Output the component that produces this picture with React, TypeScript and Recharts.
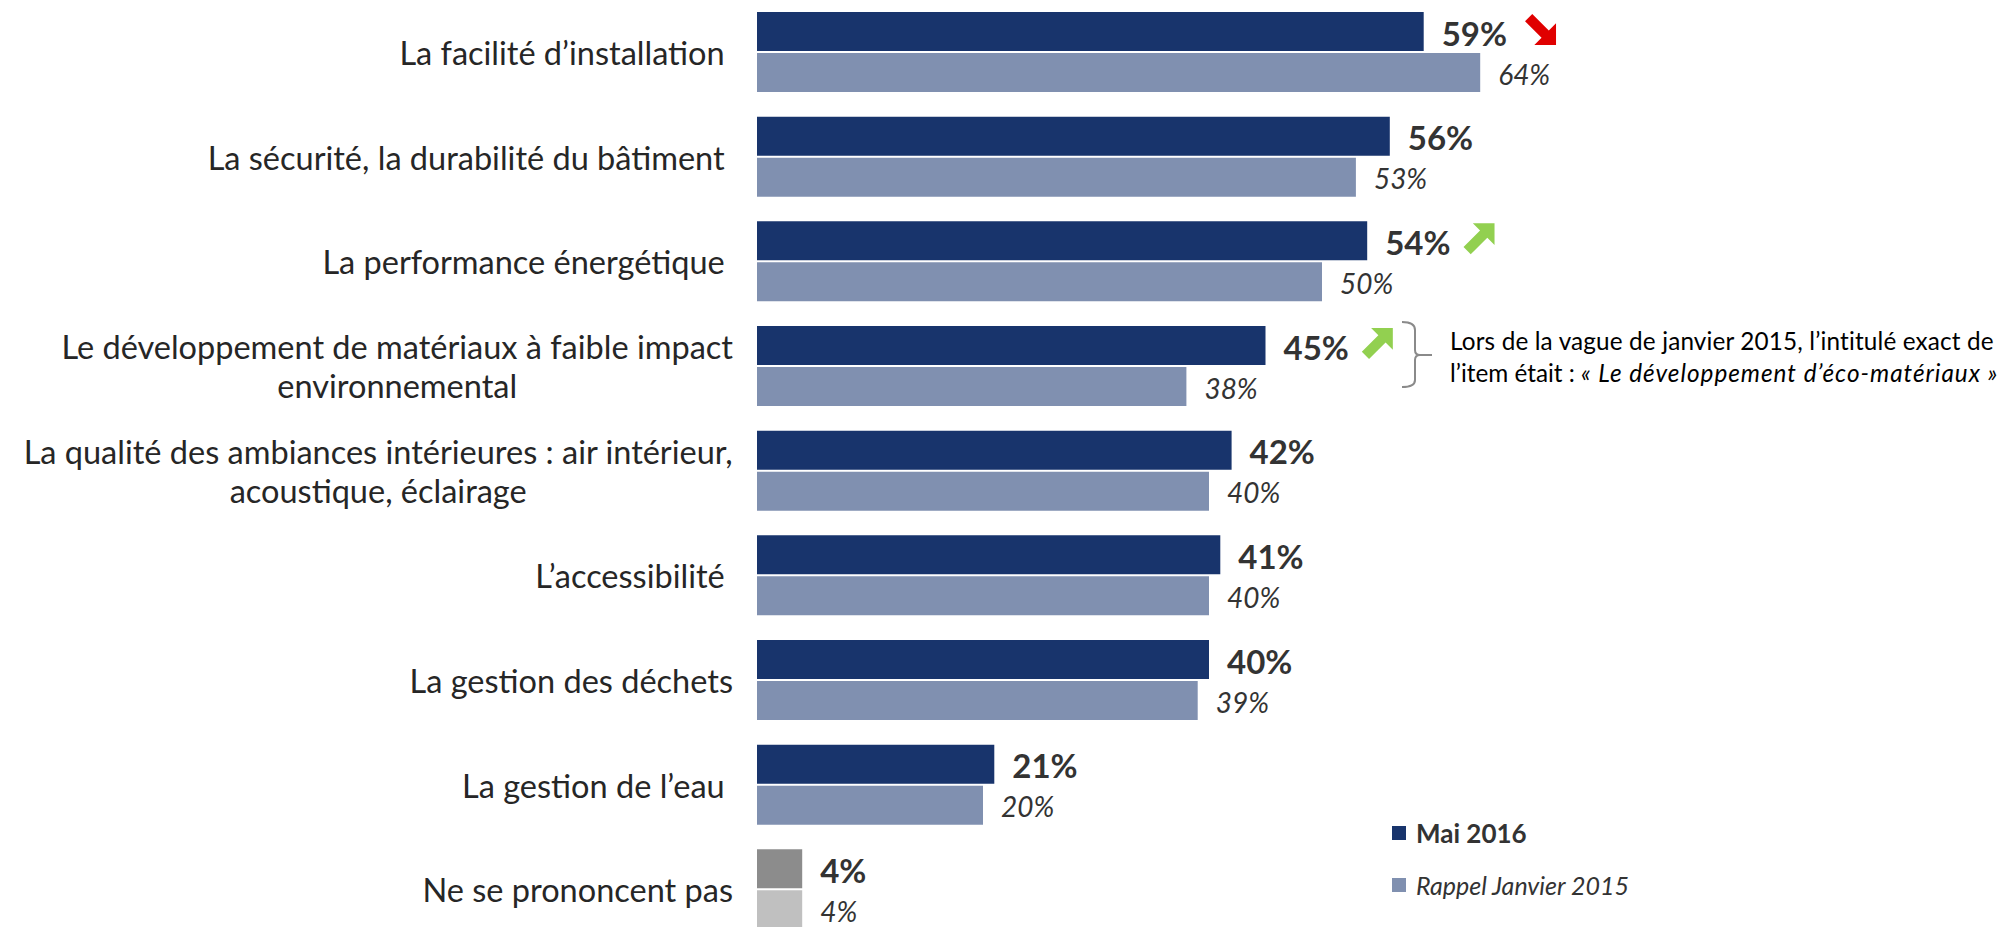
import React from "react";
import { BarChart, Bar, XAxis, YAxis, Cell, LabelList } from "recharts";

const categories = [
  "La facilité d’installation ",
  "La sécurité, la durabilité du bâtiment ",
  "La performance énergétique ",
  "Le développement de matériaux à faible impact\nenvironnemental",
  "La qualité des ambiances intérieures : air intérieur,\nacoustique, éclairage",
  "L’accessibilité ",
  "La gestion des déchets",
  "La gestion de l’eau ",
  "Ne se prononcent pas",
];
const mai2016 = [59, 56, 54, 45, 42, 41, 40, 21, 4];
const janvier2015 = [64, 53, 50, 38, 40, 40, 39, 20, 4];
const trends: (string | null)[] = ["down", null, "up", "up", null, null, null, null, null];
const seriesNames = ["Mai 2016", "Rappel Janvier 2015"];
const noteLine1 = "Lors de la vague de janvier 2015, l’intitulé exact de";
const noteLine2a = "l’item était : ";
const noteLine2b = "« Le développement d’éco-matériaux »";
const noteIndex = 3;

const data = categories.map((name, i) => ({
  name,
  mai: mai2016[i],
  janv: janvier2015[i],
  trend: trends[i],
}));

const FONT = "Lato, 'Open Sans', sans-serif";
const DARK = "#18346C";
const LIGHT = "#8090B0";
const GRAY_DARK = "#8C8C8C";
const GRAY_LIGHT = "#C0C0C0";
const TEXT = "#262626";
const VALUE_TEXT = "#333333";

let ctx: CanvasRenderingContext2D | null = null;
const measure = (text: string, font: string) => {
  if (!ctx) ctx = document.createElement("canvas").getContext("2d");
  if (!ctx) return text.length * 14;
  ctx.font = font;
  return ctx.measureText(text).width;
};

const LABEL_SIZE = 32.5;

const CategoryTick = (props: any) => {
  const { x, y, payload } = props;
  const lines: string[] = String(payload.value).split("\n");
  if (lines.length === 1) {
    return (
      <text x={x} y={y} textAnchor="end" dominantBaseline="central" fontFamily={FONT} fontSize={LABEL_SIZE} fill={TEXT} style={{ whiteSpace: "pre" }}>
        {lines[0]}
      </text>
    );
  }
  const w = measure(lines[0], `${LABEL_SIZE}px ${FONT}`);
  const cx = x - w / 2;
  return (
    <text x={cx} y={y} textAnchor="middle" fontFamily={FONT} fontSize={LABEL_SIZE} fill={TEXT}>
      {lines.map((l, i) => (
        <tspan key={i} x={cx} y={y + (i - (lines.length - 1) / 2) * 39} dominantBaseline="central">
          {l}
        </tspan>
      ))}
    </text>
  );
};

const Arrow = ({ x, cy, dir }: { x: number; cy: number; dir: string }) => {
  const s = 31;
  const pts = [
    [30, 0], [30, 21], [23, 14], [7, 30], [0, 23], [16, 7], [9, 0],
  ].map(([px, py]) => [x + (px * s) / 30, dir === "up" ? cy - s / 2 + (py * s) / 30 : cy + s / 2 - (py * s) / 30]);
  return <polygon points={pts.map((p) => p.join(",")).join(" ")} fill={dir === "up" ? "#92D050" : "#E00000"} />;
};

const BOLD_SIZE = 33;
const ITALIC_SIZE = 28;
const NOTE_SIZE = 24.3;

const DarkLabel = (props: any) => {
  const { x, y, width, height, value, index } = props;
  const tx = x + width + 18;
  const cy = y + height / 2;
  const label = `${value}%`;
  const trend = trends[index];
  const lw = measure(label, `bold ${BOLD_SIZE}px ${FONT}`);
  return (
    <g>
      <text x={tx} y={cy + 1} dominantBaseline="central" fontFamily={FONT} fontWeight="bold" fontSize={BOLD_SIZE} fill={VALUE_TEXT}>
        {label}
      </text>
      {trend ? <Arrow x={tx + lw + (trend === "down" ? 18 : 13)} cy={cy - 2} dir={trend} /> : null}
      {index === noteIndex ? (
        <g>
          <path
            d={`M1402,${y - 4} Q1415,${y - 4} 1415,${y + 4} L1415,${y + 24} Q1415,${y + 29} 1420,${y + 29} L1432,${y + 29} M1420,${y + 29} Q1415,${y + 29} 1415,${y + 34} L1415,${y + 54} Q1415,${y + 61} 1402,${y + 61}`}
            fill="none"
            stroke="#8A8A8A"
            strokeWidth={2}
          />
          <text x={1450} y={y + 24} fontFamily={FONT} fontSize={NOTE_SIZE} fill="#000" letterSpacing={0.15}>
            {noteLine1}
          </text>
          <text x={1450} y={y + 56} fontFamily={FONT} fontSize={NOTE_SIZE} fill="#000">
            <tspan>{noteLine2a}</tspan>
            <tspan fontStyle="italic" letterSpacing={1}>{noteLine2b}</tspan>
          </text>
        </g>
      ) : null}
    </g>
  );
};

const LightLabel = (props: any) => {
  const { x, y, width, height, value } = props;
  return (
    <text x={x + width + 18} y={y + height / 2 + 1} dominantBaseline="central" fontFamily={FONT} fontStyle="italic" fontSize={ITALIC_SIZE} fill={VALUE_TEXT}>
      {`${value}%`}
    </text>
  );
};

const LegendBox = () => (
  <div style={{ position: "absolute", left: 1392, top: 818, width: 320, fontFamily: FONT, color: VALUE_TEXT }}>
    <div style={{ display: "flex", alignItems: "center", height: 30 }}>
      <span style={{ display: "inline-block", width: 14, height: 14, background: DARK, marginRight: 10 }} />
      <span style={{ fontWeight: "bold", fontSize: 26 }}>{seriesNames[0]}</span>
    </div>
    <div style={{ display: "flex", alignItems: "center", height: 30, marginTop: 22 }}>
      <span style={{ display: "inline-block", width: 14, height: 14, background: LIGHT, marginRight: 10 }} />
      <span style={{ fontStyle: "italic", fontSize: 25 }}>{seriesNames[1]}</span>
    </div>
  </div>
);

export default function App() {
  return (
    <div style={{ position: "fixed", left: 0, top: 0, width: 2008, height: 927, overflow: "hidden", background: "#fff" }}>
      <BarChart
        width={2008}
        height={942}
        data={data}
        layout="vertical"
        margin={{ top: 0, right: 121, bottom: 0, left: 0 }}
        barSize={39}
        barGap={2}
      >
        <XAxis type="number" domain={[0, 100]} hide />
        <YAxis type="category" dataKey="name" width={757} axisLine={false} tickLine={false} tickSize={0} tickMargin={24} tick={<CategoryTick />} interval={0} />
        <Bar dataKey="mai" name={seriesNames[0]} fill={DARK} isAnimationActive={false}>
          {data.map((d, i) => (
            <Cell key={i} fill={i === data.length - 1 ? GRAY_DARK : DARK} />
          ))}
          <LabelList dataKey="mai" content={<DarkLabel />} />
        </Bar>
        <Bar dataKey="janv" name={seriesNames[1]} fill={LIGHT} isAnimationActive={false}>
          {data.map((d, i) => (
            <Cell key={i} fill={i === data.length - 1 ? GRAY_LIGHT : LIGHT} />
          ))}
          <LabelList dataKey="janv" content={<LightLabel />} />
        </Bar>
      </BarChart>
      <LegendBox />
    </div>
  );
}
